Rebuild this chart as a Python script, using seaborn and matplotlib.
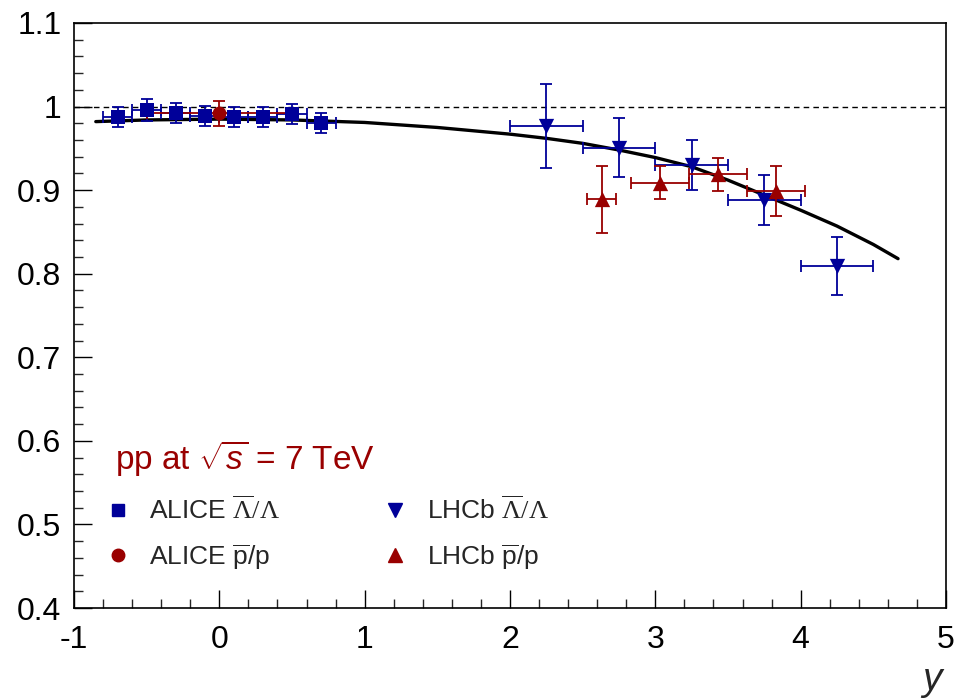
import numpy as np
import pandas as pd
import seaborn as sns
import matplotlib.pyplot as plt
from matplotlib.lines import Line2D
from matplotlib.ticker import MultipleLocator

# ALICE Lambda-bar/Lambda
alice_lam_x = [-0.7, -0.5, -0.3, -0.1, 0.1, 0.3, 0.5, 0.7]
alice_lam_y = [0.987, 0.996, 0.992, 0.989, 0.988, 0.987, 0.991, 0.980]
alice_lam_ey = [0.012, 0.013, 0.012, 0.012, 0.012, 0.012, 0.012, 0.012]
alice_lam_ex = [0.1, 0.1, 0.1, 0.1, 0.1, 0.1, 0.1, 0.1]

# ALICE pbar/p
alice_p_x = [0.0]
alice_p_y = [0.992]
alice_p_ey = [0.015]
alice_p_ex = [0.5]

# LHCb Lambda-bar/Lambda
lhcb_lam_x = [2.25, 2.75, 3.25, 3.75, 4.25]
lhcb_lam_y = [0.977, 0.951, 0.930, 0.888, 0.809]
lhcb_lam_ey = [0.050, 0.035, 0.030, 0.030, 0.035]
lhcb_lam_ex = [0.25, 0.25, 0.25, 0.25, 0.25]

# LHCb pbar/p
lhcb_p_x = [2.63, 3.03, 3.43, 3.83]
lhcb_p_y = [0.889, 0.909, 0.919, 0.899]
lhcb_p_ey = [0.040, 0.020, 0.020, 0.030]
lhcb_p_ex = [0.10, 0.20, 0.20, 0.20]

# model curve
curve_x = [-0.85, -0.5, 0.0, 0.5, 1.0, 1.5, 2.0, 2.25, 2.5, 2.75, 3.0, 3.25,
           3.5, 3.75, 4.0, 4.25, 4.5, 4.67]
curve_y = [0.982, 0.984, 0.985, 0.984, 0.981, 0.975, 0.967, 0.962, 0.956, 0.948,
           0.939, 0.928, 0.912, 0.894, 0.876, 0.857, 0.835, 0.818]

blue = '#000099'
red = '#990000'

sns.set_theme(style='ticks')
plt.rcParams['font.family'] = ['Liberation Sans', 'DejaVu Sans']
plt.rcParams['mathtext.fontset'] = 'custom'
plt.rcParams['mathtext.rm'] = 'Liberation Serif'
plt.rcParams['mathtext.sf'] = 'Liberation Sans'
plt.rcParams['mathtext.it'] = 'Liberation Sans:italic'

fig = plt.figure(figsize=(9.57, 7.0), dpi=100)
ax = fig.add_axes([74 / 957, 92 / 700, 872 / 957, 585 / 700])

ax.axhline(1.0, color='black', lw=1.0, ls=(0, (4, 3)))

curve = pd.DataFrame({'x': curve_x, 'y': curve_y})
sns.lineplot(data=curve, x='x', y='y', color='black', lw=2.4, ax=ax)

series = [
    (alice_lam_x, alice_lam_y, alice_lam_ex, alice_lam_ey, blue, 's', 9.5),
    (alice_p_x, alice_p_y, alice_p_ex, alice_p_ey, red, 'o', 10),
    (lhcb_lam_x, lhcb_lam_y, lhcb_lam_ex, lhcb_lam_ey, blue, 'v', 11),
    (lhcb_p_x, lhcb_p_y, lhcb_p_ex, lhcb_p_ey, red, '^', 11),
]
for xs, ys, ex, ey, col, mk, ms in series:
    ax.errorbar(xs, ys, xerr=ex, yerr=ey, fmt='none', ecolor=col,
                elinewidth=1.3, capsize=4, capthick=1.3, zorder=3)
    d = pd.DataFrame({'x': xs, 'y': ys})
    sns.scatterplot(data=d, x='x', y='y', marker=mk, s=ms ** 2, color=col,
                    edgecolor=col, linewidth=0, ax=ax, zorder=4)

ax.set_xlim(-1, 5)
ax.set_ylim(0.4, 1.1)
ax.xaxis.set_minor_locator(MultipleLocator(0.2))
ax.yaxis.set_minor_locator(MultipleLocator(0.02))
ax.set_yticks([0.4, 0.5, 0.6, 0.7, 0.8, 0.9, 1.0, 1.1])
ax.set_yticklabels(['0.4', '0.5', '0.6', '0.7', '0.8', '0.9', '1', '1.1'])
ax.set_xticks([-1, 0, 1, 2, 3, 4, 5])
ax.set_xticklabels(['-1', '0', '1', '2', '3', '4', '5'])
ax.tick_params(which='major', direction='in', length=13, width=1.0, labelsize=23,
               colors='black')
ax.tick_params(axis='x', which='major', pad=12)
ax.tick_params(axis='y', which='major', pad=9)
ax.tick_params(which='minor', direction='in', length=6.5, width=1.0)
for sp in ax.spines.values():
    sp.set_visible(True)
    sp.set_color('black')
    sp.set_linewidth(1.2)

ax.set_xlabel('')
ax.set_ylabel('')
ax.text(1.0, -0.140, '$y$', transform=ax.transAxes, ha='right', va='baseline',
        fontsize=28)

handles = [
    Line2D([], [], ls='none', marker='s', color=blue, ms=9),
    Line2D([], [], ls='none', marker='o', color=red, ms=9),
    Line2D([], [], ls='none', marker='v', color=blue, ms=10),
    Line2D([], [], ls='none', marker='^', color=red, ms=10),
]
labels = [r'ALICE $\overline{\Lambda}/\Lambda$', r'ALICE $\overline{\mathsf{p}}$/p',
          r'LHCb $\overline{\Lambda}/\Lambda$', r'LHCb $\overline{\mathsf{p}}$/p']
leg = ax.legend(handles, labels, ncol=2, frameon=False, fontsize=19,
                loc='upper left', bbox_to_anchor=(0.020, 0.331),
                title=r'pp at $\sqrt{s}$ = 7 TeV', title_fontsize=24,
                alignment='left', handletextpad=1.1, columnspacing=4.25,
                labelspacing=0.68, handlelength=0.2)
leg.get_title().set_color(red)

fig.savefig('out.png', dpi=100)
